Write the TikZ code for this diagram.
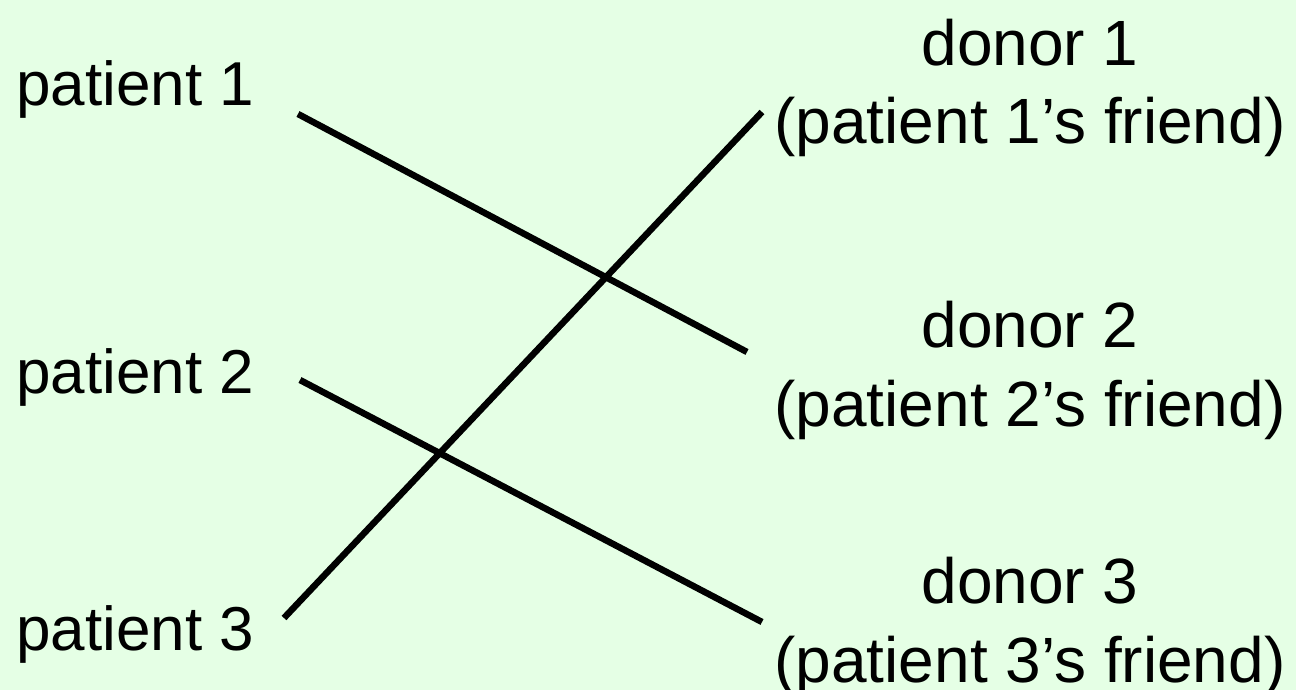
\documentclass[tikz,border=0pt]{standalone}
\usepackage{fontspec}
\setmainfont{Liberation Sans}
\definecolor{mintbg}{RGB}{229,255,229}
\tikzset{
	label text/.style={inner sep=0pt, font=\fontsize{31}{39}\selectfont},
	donor text/.style={inner sep=0pt, align=center, font=\fontsize{32}{39.5}\selectfont},
	match line/.style={line width=3.25pt},
}

\begin{document}
\begin{tikzpicture}[x=0.5pt,y=0.5pt,yscale=-1,xscale=1]
	%set diagram to the full frame 1296 x 690
	\fill[mintbg] (0,0) rectangle (1296,690);
	\useasboundingbox (0,0) rectangle (1296,690);
	
	% Text Node
	\node (p1) [label text, anchor=base west] at (16,105) {patient 1};
	% Text Node
	\node (p2) [label text, anchor=base west] at (16,393) {patient 2};
	% Text Node
	\node (p3) [label text, anchor=base west] at (16,650) {patient 3};
	% Text Node
	\node (d1) [donor text, anchor=base] at (1030,144) {donor 1\\(patient 1’s friend)};
	% Text Node
	\node (d2) [donor text, anchor=base] at (1030,426) {donor 2\\(patient 2’s friend)};
	% Text Node
	\node (d3) [donor text, anchor=base] at (1030,682) {donor 3\\(patient 3’s friend)};
	
	%Line ends
	\coordinate (p1out) at (298,114);
	\coordinate (p2out) at (300,380);
	\coordinate (p3out) at (284,618);
	\coordinate (d1in) at (762,112);
	\coordinate (d2in) at (747,352);
	\coordinate (d3in) at (762,622);
	
	%Straight Lines
	\draw[match line] (p1out) -- (d2in);
	%Straight Lines
	\draw[match line] (p2out) -- (d3in);
	%Straight Lines
	\draw[match line] (p3out) -- (d1in);
\end{tikzpicture}
\end{document}
